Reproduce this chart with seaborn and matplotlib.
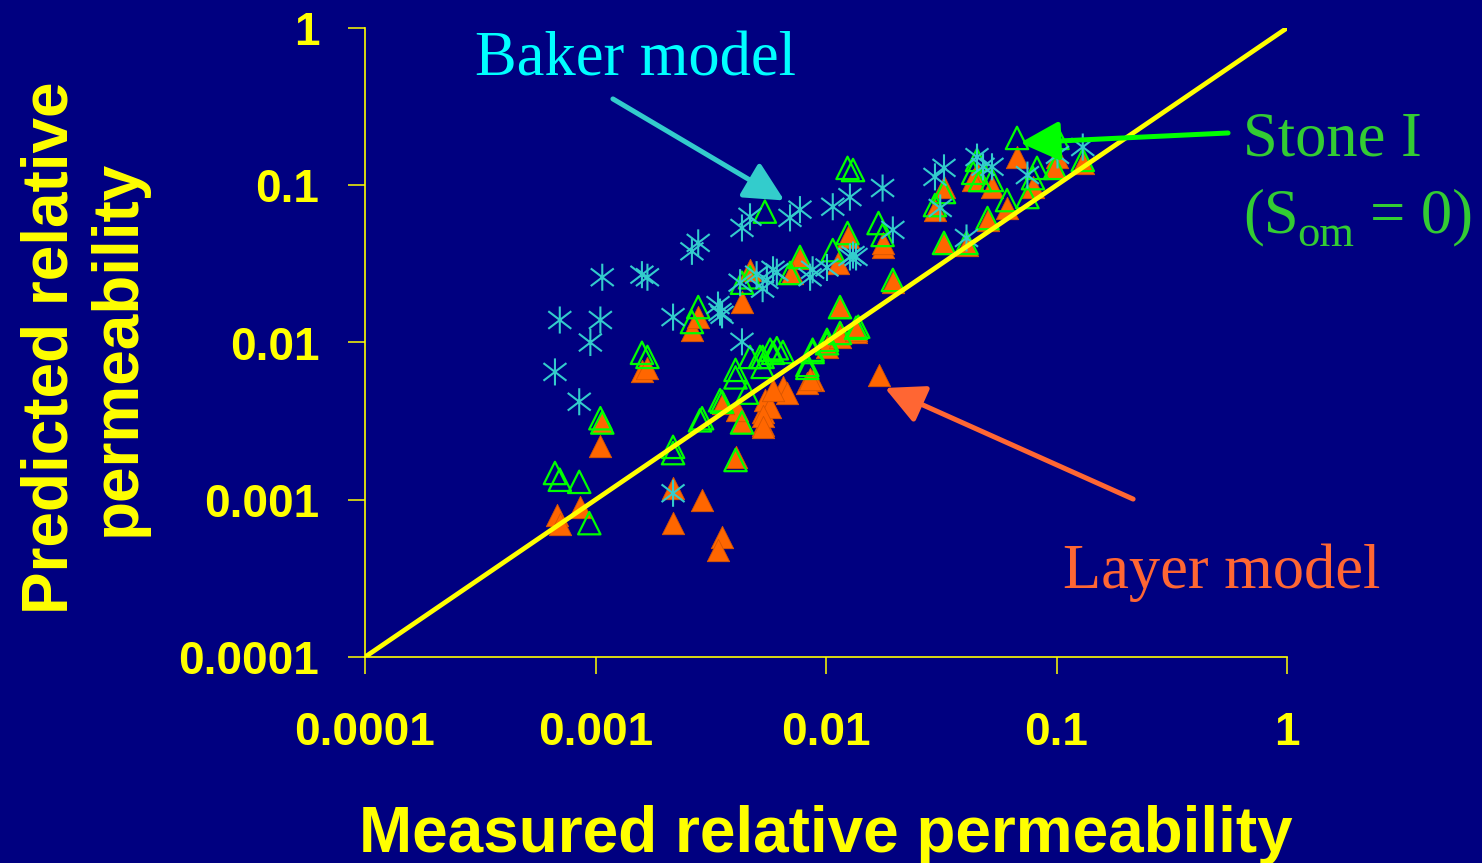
import numpy as np
import pandas as pd
import matplotlib
matplotlib.use("Agg")
import matplotlib.pyplot as plt
from matplotlib.path import Path
import seaborn as sns

# ---------------- data (measured, predicted relative permeability) ----------
layer_measured = [6.8e-4, 7.0e-4, 8.6e-4, 1.05e-3, 1.07e-3, 1.59e-3, 1.68e-3, 2.17e-3, 2.17e-3, 2.90e-3,
                  3.54e-3, 3.40e-3, 4.05e-3, 4.32e-3, 5.31e-3, 5.31e-3, 2.62e-3, 2.79e-3, 4.68e-3, 4.32e-3,
                  7.71e-3, 7.12e-3, 1.13e-2, 1.24e-2, 1.76e-2, 1.15e-2, 1.95e-2, 1.15e-2, 1.35e-2, 1.69e-2,
                  8.75e-3, 8.3e-3, 1.01e-2, 8.53e-3, 6.50e-3, 6.77e-3, 5.43e-3, 5.72e-3, 5.31e-3, 5.31e-3,
                  4.11e-3, 3.57e-3, 5.89e-3, 1.15e-2, 1.35e-2, 6.74e-2, 0.101, 0.130, 9.85e-2, 4.52e-2,
                  4.35e-2, 5.25e-2, 7.91e-2, 3.25e-2, 2.97e-2, 6.10e-2, 5.02e-2, 3.25e-2, 4.07e-2, 1.76e-2]
layer_predicted = [8.0e-4, 7.0e-4, 9.0e-4, 2.2e-3, 3.1e-3, 6.6e-3, 6.9e-3, 1.19e-3, 7.1e-4, 1.0e-3,
                   5.8e-4, 4.8e-4, 1.87e-3, 3.1e-3, 3.0e-3, 3.6e-3, 1.2e-2, 1.45e-2, 2.9e-2, 1.81e-2,
                   3.45e-2, 2.77e-2, 3.2e-2, 4.7e-2, 4.05e-2, 1.68e-2, 2.43e-2, 1.17e-2, 1.17e-2, 6.2e-3,
                   5.8e-3, 5.5e-3, 9.4e-3, 5.9e-3, 5.2e-3, 4.8e-3, 4.3e-3, 3.9e-3, 3.4e-3, 2.9e-3,
                   3.7e-3, 4.1e-3, 5.0e-3, 1.08e-2, 1.2e-2, 0.151, 0.151, 0.139, 0.129, 0.120,
                   0.108, 0.0975, 0.0975, 0.0975, 0.0696, 0.0717, 0.0601, 0.043, 0.0417, 0.043]

stone_measured = [6.67e-4, 7.0e-4, 8.5e-4, 9.4e-4, 1.05e-3, 1.07e-3, 1.59e-3, 1.68e-3, 2.79e-3, 2.62e-3,
                  2.17e-3, 2.17e-3, 2.90e-3, 3.54e-3, 4.05e-3, 4.05e-3, 4.05e-3, 4.32e-3, 4.68e-3, 4.32e-3,
                  5.43e-3, 1.24e-2, 1.31e-2, 1.24e-2, 1.69e-2, 1.76e-2, 1.07e-2, 7.71e-3, 6.98e-3, 1.95e-2,
                  1.15e-2, 1.38e-2, 1.01e-2, 8.75e-3, 8.3e-3, 5.31e-3, 5.89e-3, 2.84e-3, 3.47e-3, 4.54e-3,
                  4.68e-3, 5.17e-3, 5.72e-3, 6.12e-3, 6.50e-3, 5.31e-3, 8.3e-3, 8.75e-3, 1.01e-2, 1.15e-2,
                  1.35e-2, 6.74e-2, 0.101, 4.52e-2, 4.35e-2, 4.66e-2, 5.25e-2, 8.23e-2, 7.91e-2, 0.130,
                  9.85e-2, 3.25e-2, 2.97e-2, 6.10e-2, 7.48e-2, 5.02e-2, 3.25e-2, 4.07e-2]
stone_predicted = [1.48e-3, 1.34e-3, 1.30e-3, 7.1e-4, 3.3e-3, 3.1e-3, 8.6e-3, 8.1e-3, 1.68e-2, 1.35e-2,
                   2.17e-3, 1.98e-3, 3.3e-3, 4.2e-3, 6.7e-3, 6.0e-3, 1.79e-3, 3.1e-3, 2.6e-2, 2.4e-2,
                   6.8e-2, 0.129, 0.125, 0.0497, 0.0575, 0.0483, 0.0387, 0.035, 0.0277, 0.025,
                   0.0168, 0.0126, 0.0099, 0.009, 0.0072, 0.0081, 0.0086, 3.2e-3, 4.3e-3, 4.8e-3,
                   8.1e-3, 8.1e-3, 9.0e-3, 9.2e-3, 8.7e-3, 7.0e-3, 6.9e-3, 8.7e-3, 1.04e-2, 1.15e-2,
                   1.24e-2, 0.200, 0.200, 0.145, 0.120, 0.108, 0.108, 0.129, 0.111, 0.145,
                   0.129, 0.0906, 0.0748, 0.0805, 0.0842, 0.0619, 0.043, 0.043]

baker_measured = [1.07e-3, 7.0e-4, 1.05e-3, 9.5e-4, 6.67e-4, 8.5e-4, 1.59e-3, 1.68e-3, 2.17e-3, 3.47e-3,
                  3.40e-3, 3.54e-3, 4.32e-3, 2.17e-3, 2.62e-3, 2.79e-3, 4.68e-3, 4.32e-3, 7.71e-3, 6.98e-3,
                  1.07e-2, 1.27e-2, 1.76e-2, 1.95e-2, 4.24e-3, 5.54e-3, 5.89e-3, 5.31e-3, 6.12e-3, 5.00e-3,
                  8.53e-3, 8.75e-3, 1.01e-2, 1.27e-2, 1.35e-2, 1.31e-2, 3.25e-2, 2.97e-2, 4.52e-2, 4.80e-2,
                  5.25e-2, 7.48e-2, 0.101, 0.130, 3.13e-2, 4.07e-2]
baker_predicted = [2.6e-2, 1.39e-2, 1.39e-2, 1.0e-2, 6.5e-3, 4.2e-3, 2.7e-2, 2.6e-2, 1.45e-2, 1.56e-2,
                   1.73e-2, 1.50e-2, 1.01e-2, 1.10e-3, 3.8e-2, 4.3e-2, 6.3e-2, 5.35e-2, 7.0e-2, 6.2e-2,
                   7.3e-2, 8.4e-2, 9.6e-2, 5.2e-2, 2.4e-2, 2.5e-2, 2.9e-2, 2.2e-2, 2.8e-2, 2.7e-2,
                   2.6e-2, 2.9e-2, 3.0e-2, 3.5e-2, 3.5e-2, 3.6e-2, 0.129, 0.113, 0.151, 0.131,
                   0.131, 0.116, 0.156, 0.175, 0.0717, 0.0462]

tick_values = [1e-4, 1e-3, 1e-2, 1e-1, 1]
tick_labels = ["0.0001", "0.001", "0.01", "0.1", "1"]
parity_line = [1e-4, 1]

# ---------------- style ----------------
NAVY = "#000080"
YELLOW = "#FFFF00"
sns.set_theme(style="white")
plt.rcParams["font.family"] = ["Liberation Sans", "DejaVu Sans"]

fig = plt.figure(figsize=(14.82, 8.63), dpi=100, facecolor=NAVY)
ax = fig.add_axes([365 / 1482, 1 - 657 / 863, (1287 - 365) / 1482, (657 - 28) / 863])
ax.set_facecolor(NAVY)

layer_df = pd.DataFrame({"measured": layer_measured, "predicted": layer_predicted})
stone_df = pd.DataFrame({"measured": stone_measured, "predicted": stone_predicted})
baker_df = pd.DataFrame({"measured": baker_measured, "predicted": baker_predicted})

# asterisk marker: vertical bar plus an X
ast = Path([(0, -1), (0, 1), (-0.85, -0.65), (0.85, 0.65), (-0.85, 0.65), (0.85, -0.65)],
           [Path.MOVETO, Path.LINETO, Path.MOVETO, Path.LINETO, Path.MOVETO, Path.LINETO])

sns.scatterplot(data=layer_df, x="measured", y="predicted", ax=ax, marker="^", s=260,
                color="#FF6600", edgecolor="#D85500", linewidth=0.6, zorder=3)
sns.scatterplot(data=stone_df, x="measured", y="predicted", ax=ax, marker="^", s=260,
                facecolors="none", edgecolor="#00FF00", linewidth=1.6, zorder=4)
sns.scatterplot(data=baker_df, x="measured", y="predicted", ax=ax, marker=ast, s=380,
                facecolors="none", edgecolor="#33CCCC", linewidth=1.5, zorder=5)
sns.lineplot(x=parity_line, y=parity_line, ax=ax, color=YELLOW, linewidth=3.4, zorder=6)

ax.set_xscale("log")
ax.set_yscale("log")
ax.set_xlim(1e-4, 1)
ax.set_ylim(1e-4, 1)
ax.set_xticks(tick_values)
ax.set_xticklabels(tick_labels)
ax.set_yticks(tick_values)
ax.set_yticklabels(tick_labels)
ax.minorticks_off()
for side in ["top", "right"]:
    ax.spines[side].set_visible(False)
for side in ["left", "bottom"]:
    ax.spines[side].set_color(YELLOW)
    ax.spines[side].set_linewidth(1.2)
ax.tick_params(axis="both", which="major", direction="out", length=12, width=1.1,
               color=YELLOW, labelcolor=YELLOW, labelsize=33, bottom=True, left=True)
ax.tick_params(axis="x", pad=27)
ax.tick_params(axis="y", pad=21)
for lbl in ax.get_xticklabels() + ax.get_yticklabels():
    lbl.set_fontweight("bold")
ax.set_xlabel("")
ax.set_ylabel("")

fig.text(826 / 1482, 1 - 852 / 863, "Measured relative permeability", color=YELLOW,
         fontsize=46, fontweight="bold", ha="center", va="baseline")
fig.text(84 / 1482, 1 - 348 / 863, "Predicted relative\npermeability", color=YELLOW,
         fontsize=46, fontweight="bold", ha="center", va="center", rotation=90,
         multialignment="center", linespacing=1.15)

# annotations
serif = ["Liberation Serif", "DejaVu Serif"]
GREEN_TXT = "#33CC33"
fig.text(475 / 1482, 1 - 75 / 863, "Baker model", color="#00FFFF", fontsize=45,
         family=serif, ha="left", va="baseline")
fig.text(1243 / 1482, 1 - 155 / 863, "Stone I", color=GREEN_TXT, fontsize=45,
         family=serif, ha="left", va="baseline")
fig.text(1243 / 1482, 1 - 232 / 863, "(S", color=GREEN_TXT, fontsize=45,
         family=serif, ha="left", va="baseline")
fig.text(1297 / 1482, 1 - 246 / 863, "om", color=GREEN_TXT, fontsize=32,
         family=serif, ha="left", va="baseline")
fig.text(1370 / 1482, 1 - 232 / 863, "= 0)", color=GREEN_TXT, fontsize=45,
         family=serif, ha="left", va="baseline")
fig.text(1063 / 1482, 1 - 588 / 863, "Layer model", color="#FF6633", fontsize=45,
         family=serif, ha="left", va="baseline")

arrow_style = "-|>,head_length=1.2,head_width=0.6"
arrows = [((1.19e-3, 0.354), (6.6e-3, 0.080), "#33CCCC"),
          ((0.555, 0.215), (0.0695, 0.186), "#00FF00"),
          ((0.215, 1.01e-3), (0.018, 5.14e-3), "#FF6633")]
for tail, tip, col in arrows:
    ax.annotate("", xy=tip, xytext=tail, xycoords="data", textcoords="data",
                arrowprops=dict(arrowstyle=arrow_style, color=col, lw=3.6,
                                shrinkA=0, shrinkB=0, mutation_scale=20),
                annotation_clip=False, zorder=8)

fig.savefig("out.png", dpi=100, facecolor=NAVY)
